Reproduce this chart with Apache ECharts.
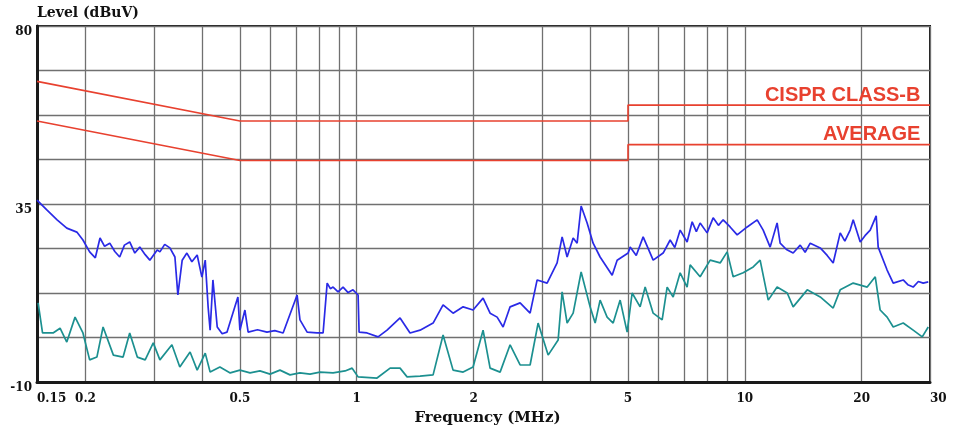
<!DOCTYPE html>
<html><head><meta charset="utf-8">
<script src="https://cdn.jsdelivr.net/npm/echarts@6/dist/echarts.min.js"></script>
<style>html,body{margin:0;padding:0;background:#fff}#c{width:956px;height:431px}</style>
</head><body><div id="c"></div>
<script>
// Frequency in MHz, level in dBuV
const peakData = [
[0.150,36.0],[0.159,33.5],[0.169,31.0],[0.179,28.9],[0.190,27.9],[0.197,25.9],[0.205,22.9],[0.212,21.4],
[0.218,26.4],[0.224,24.3],[0.231,25.1],[0.238,23.0],[0.245,21.6],[0.252,24.6],[0.260,25.4],[0.268,22.6],[0.276,24.1],[0.285,22.2],[0.293,20.8],[0.306,23.4],[0.311,22.9],
[0.320,24.8],[0.330,23.9],[0.340,21.6],[0.346,12.0],[0.355,20.8],[0.365,22.6],[0.376,20.4],[0.388,22.1],[0.399,16.5],[0.407,20.8],
[0.414,9.0],[0.419,3.1],[0.426,15.8],[0.437,3.9],[0.450,2.2],[0.463,2.6],[0.494,11.5],[0.500,3.1],[0.515,8.2],
[0.525,2.6],[0.555,3.2],[0.587,2.6],[0.615,3.0],[0.646,2.4],[0.702,12.0],[0.714,5.7],[0.745,2.6],[0.790,2.4],[0.819,2.4],
[0.839,15.0],[0.855,13.6],[0.869,14.0],[0.895,12.8],[0.922,14.0],[0.950,12.6],[0.978,13.3],[1.008,12.0],[1.014,2.6],[1.063,2.4],[1.135,1.4],
[1.197,3.1],[1.293,6.2],[1.372,2.4],[1.456,3.1],[1.573,4.9],[1.669,9.5],[1.771,7.4],[1.880,9.0],
[1.994,8.2],[2.116,11.2],[2.206,7.4],[2.300,6.4],[2.383,3.9],[2.484,9.0],[2.636,10.0],[2.797,7.4],
[2.916,15.8],[3.094,15.0],[3.283,20.1],[3.382,26.7],[3.484,21.6],[3.611,26.4],[3.697,25.1],[3.786,34.5],
[3.923,30.2],[4.065,25.1],[4.237,21.6],[4.551,17.0],[4.688,20.8],[5.004,22.6],[5.064,24.1],[5.25,22.0],[5.47,26.7],
[5.805,20.8],[6.159,22.6],[6.42,25.9],[6.60,24.0],[6.813,28.4],[7.10,25.4],[7.316,30.5],[7.50,28.0],[7.67,30.2],[7.995,27.7],
[8.286,31.5],[8.55,29.6],[8.793,31.0],[9.165,29.2],[9.555,27.2],[10.14,29.2],[10.76,31.0],[11.15,28.4],[11.62,24.1],
[12.11,30.2],[12.33,25.1],[12.80,23.5],[13.32,22.6],[13.89,24.6],[14.30,22.8],[14.74,25.1],[15.64,23.9],[16.30,22.0],[16.89,20.1],[17.61,27.7],
[18.10,25.6],[18.68,28.4],[19.02,31.0],[19.83,25.4],[20.40,27.0],[21.04,28.4],[21.80,32.0],[22.06,24.1],[23.26,18.3],[24.12,15.0],
[25.59,15.8],[26.30,14.6],[27.15,14.0],[28.00,15.4],[28.81,15.0],[29.69,15.3]
];
const avgData = [
[0.151,10.0],[0.155,2.4],[0.165,2.4],[0.172,3.6],[0.179,0.1],[0.188,6.4],[0.197,2.4],[0.205,-4.4],
[0.214,-3.7],[0.222,3.9],[0.236,-3.2],[0.250,-3.7],[0.260,2.4],[0.272,-3.7],[0.285,-4.4],[0.299,-0.1],
[0.311,-4.4],[0.334,-0.6],[0.350,-6.2],[0.372,-2.4],[0.388,-7.0],[0.407,-2.7],[0.419,-7.5],[0.444,-6.2],
[0.472,-7.7],[0.500,-7.0],[0.531,-7.7],[0.563,-7.2],[0.598,-8.0],[0.634,-7.0],[0.673,-8.2],[0.714,-7.7],
[0.758,-8.0],[0.804,-7.5],[0.869,-7.7],[0.933,-7.2],[0.973,-6.5],[1.008,-8.7],[1.128,-9.0],[1.219,-6.5],
[1.293,-6.5],[1.348,-8.7],[1.456,-8.5],[1.573,-8.2],[1.669,1.9],[1.771,-7.0],[1.880,-7.5],[1.994,-6.2],
[2.116,3.1],[2.206,-6.5],[2.341,-7.5],[2.484,-0.6],[2.636,-5.7],[2.797,-5.7],[2.933,4.9],[3.113,-3.2],
[3.303,0.6],[3.382,12.8],[3.484,4.9],[3.611,7.4],[3.786,17.8],[3.993,9.0],[4.114,4.9],[4.237,10.7],
[4.417,6.4],[4.578,4.9],[4.772,10.7],[4.974,2.6],[5.124,12.5],[5.373,9.0],[5.535,14.0],[5.805,7.4],
[6.123,5.7],[6.307,14.0],[6.536,11.5],[6.813,17.6],[7.10,14.0],[7.229,19.6],[7.67,16.6],[8.141,20.8],
[8.639,20.1],[9.005,22.9],[9.331,16.6],[9.902,17.6],[10.51,19.1],[10.95,20.8],[11.49,10.7],[12.11,14.0],
[12.86,12.5],[13.32,9.0],[14.48,13.3],[15.64,11.5],[16.89,8.7],[17.61,13.3],[19.02,15.0],[20.67,14.0],
[21.68,16.6],[22.32,8.2],[23.26,6.4],[24.12,3.9],[25.59,4.9],[27.15,3.1],[28.65,1.4],[29.69,3.9]
];
const qpLimit = [[0.15,66],[0.5,56],[5,56],[5,60],[30,60]];
const avgLimit = [[0.15,56],[0.5,46],[5,46],[5,50],[30,50]];
const xGridTicks = [0.15,0.2,0.3,0.4,0.5,0.6,0.7,0.8,0.9,1,2,3,4,5,6,7,8,9,10,20,30];
const xLabelTicks = [0.15,0.2,0.5,1,2,5,10,20,30];
const yGridTicks = [-10,1.25,12.5,23.75,35,46.25,57.5,68.75,80];
const yLabelTicks = [-10,35,80];
const limitNames = ['CISPR CLASS-B','AVERAGE'];

const serif = "'DejaVu Serif','Liberation Serif',serif";
const sans = "'Liberation Sans',Arial,sans-serif";
const red = '#e8412f';
const chart = echarts.init(document.getElementById('c'));
chart.setOption({
  backgroundColor:'#fff',
  animation:false,
  grid:{left:37,right:26,top:26,bottom:49,show:true,borderColor:'#1a1a1a',borderWidth:2,backgroundColor:'transparent'},
  xAxis:{
    type:'log',min:0.15,max:30,logBase:10,
    name:'Frequency (MHz)',nameLocation:'middle',nameGap:29,
    nameTextStyle:{fontFamily:serif,fontWeight:'bold',fontSize:15,color:'#111',padding:[0,0,0,8]},
    axisLine:{show:true,onZero:false,lineStyle:{color:'#1a1a1a',width:3}},
    axisTick:{show:false,customValues:xGridTicks},
    splitLine:{show:true,lineStyle:{color:'#707070',width:1.3}},
    minorSplitLine:{show:false},
    axisLabel:{customValues:xLabelTicks,formatter:v=>String(+v.toFixed(2)),fontFamily:serif,fontWeight:'bold',fontSize:12,color:'#111',margin:11,alignMinLabel:'left',alignMaxLabel:'left'}
  },
  yAxis:{
    type:'value',min:-10,max:80,
    name:'Level (dBuV)',nameLocation:'end',nameGap:6,
    nameTextStyle:{fontFamily:serif,fontWeight:'bold',fontSize:14,color:'#111',align:'left',verticalAlign:'bottom'},
    axisLine:{show:true,onZero:false,lineStyle:{color:'#1a1a1a',width:3}},
    axisTick:{show:false,customValues:yGridTicks},
    splitLine:{show:true,lineStyle:{color:'#707070',width:1.3}},
    axisLabel:{customValues:yLabelTicks,fontFamily:serif,fontWeight:'bold',fontSize:12,color:'#111',margin:5,verticalAlign:'top'}
  },
  series:[
    {type:'line',data:peakData,showSymbol:false,symbol:'none',lineStyle:{color:'#2a2ae6',width:1.7},z:3},
    {type:'line',data:avgData,showSymbol:false,symbol:'none',lineStyle:{color:'#1c9090',width:1.7},z:3},
    {type:'line',data:qpLimit,symbol:'none',lineStyle:{color:red,width:1.6},z:4,
      markPoint:{symbol:'circle',symbolSize:0,silent:true,data:[{coord:[29.2,60]}],
        label:{show:true,position:'left',distance:0,offset:[-5,-10],formatter:limitNames[0],color:red,fontFamily:sans,fontWeight:'bold',fontSize:20}}},
    {type:'line',data:avgLimit,symbol:'none',lineStyle:{color:red,width:1.6},z:4,
      markPoint:{symbol:'circle',symbolSize:0,silent:true,data:[{coord:[29.2,50]}],
        label:{show:true,position:'left',distance:0,offset:[-5,-10],formatter:limitNames[1],color:red,fontFamily:sans,fontWeight:'bold',fontSize:20}}}
  ]
});
</script></body></html>
